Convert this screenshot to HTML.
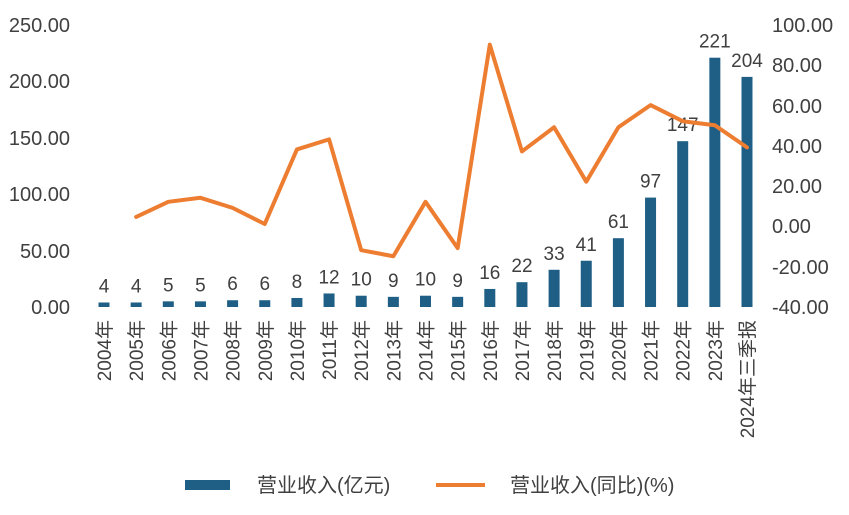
<!DOCTYPE html>
<html><head><meta charset="utf-8"><style>
body{margin:0;background:#fff}
text{font-family:"Liberation Sans","Noto Sans CJK SC",sans-serif;fill:#404040}
</style></head><body>
<svg width="849" height="510" xmlns="http://www.w3.org/2000/svg">
<g font-size="20" text-anchor="end">
<text x="70" y="32">250.00</text>
<text x="70" y="88">200.00</text>
<text x="70" y="145">150.00</text>
<text x="70" y="201">100.00</text>
<text x="70" y="258">50.00</text>
<text x="70" y="314">0.00</text>
</g>
<g font-size="20" text-anchor="start">
<text x="772" y="32">100.00</text>
<text x="772" y="72">80.00</text>
<text x="772" y="113">60.00</text>
<text x="772" y="153">40.00</text>
<text x="772" y="193">20.00</text>
<text x="772" y="233">0.00</text>
<text x="772" y="274">-20.00</text>
<text x="772" y="314">-40.00</text>
</g>
<g id="bars"></g>
<g id="lbl" font-size="19" text-anchor="middle"></g>
<g id="cat" font-size="19"></g>
<polyline id="ln" fill="none" stroke="#ED7D31" stroke-width="4" stroke-linejoin="round" stroke-linecap="round"/>
<rect x="185" y="480" width="45" height="10" fill="#1F5F85"/>
<text x="257" y="492" font-size="20">营业收入(亿元)</text>
<line x1="436" y1="485" x2="485" y2="485" stroke="#ED7D31" stroke-width="4"/>
<text x="510" y="492" font-size="20">营业收入(同比)(%)</text>
</svg>
<script>
var v=[4,4,5,5,6,6,8,12,10,9,10,9,16,22,33,41,61,97,147,221,204];
var g=[null,4.5,12,14,9,1,38,43,-12,-15,12,-11,90,37,49,22,49,60,52,50,39];
var c=["2004年","2005年","2006年","2007年","2008年","2009年","2010年","2011年","2012年","2013年","2014年","2015年","2016年","2017年","2018年","2019年","2020年","2021年","2022年","2023年","2024年三季报"];
var b="",l="",t="",p=[];
for(var i=0;i<21;i++){var x=104+i*32.15,h=v[i]*1.128;
b+='<rect x="'+(x-5.5)+'" y="'+(307-h)+'" width="11" height="'+h+'" fill="#1F5F85"/>';
l+='<text x="'+x+'" y="'+(307-h-10)+'">'+v[i]+'</text>';
t+='<text transform="translate('+(x+7)+',320) rotate(-90)" text-anchor="end">'+c[i]+'</text>';
if(g[i]!==null)p.push(x+','+(226-g[i]*2.015));}
document.getElementById('bars').innerHTML=b;
document.getElementById('lbl').innerHTML=l;
document.getElementById('cat').innerHTML=t;
document.getElementById('ln').setAttribute('points',p.join(' '));
</script>
</body></html>
